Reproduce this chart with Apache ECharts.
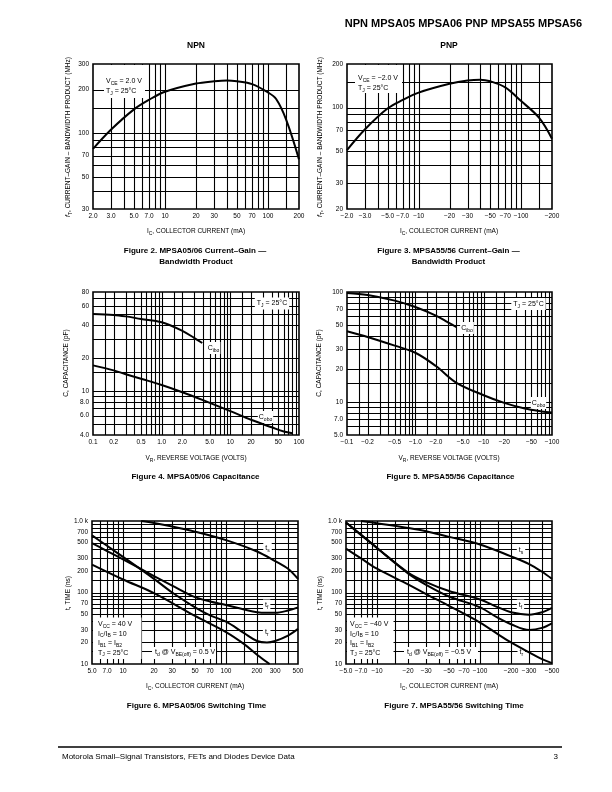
<!DOCTYPE html>
<html><head><meta charset="utf-8">
<script src="https://cdn.jsdelivr.net/npm/echarts@6/dist/echarts.min.js"></script>
<style>html,body{margin:0;padding:0;background:#fff}#c{width:612px;height:792px}</style>
</head><body><div id="c"></div>
<script>
const FONT = '"Liberation Sans", Arial, Helvetica, sans-serif';

// ---------- Figure 2 : MPSA05/06 fT vs IC ----------
const f2Ic = [2, 3, 5, 7, 10, 20, 30, 40, 50, 70, 100, 120, 150, 200];
const f2Ft = [78, 106, 146, 170, 193, 220, 228, 231, 228, 218, 191, 172, 124, 66];
const f2XGrid = [3, 4, 5, 6, 7, 8, 9, 10, 20, 30, 40, 50, 60, 70, 80, 90, 100, 150];
const f2YGrid = [40, 50, 60, 70, 80, 90, 100, 150, 200];
const f2XTicks = [2, 3, 5, 7, 10, 20, 30, 50, 70, 100, 200];
const f2XLabels = ['2.0', '3.0', '5.0', '7.0', '10', '20', '30', '50', '70', '100', '200'];
const f2YTicks = [30, 50, 70, 100, 200, 300];
const f2YLabels = ['30', '50', '70', '100', '200', '300'];

// ---------- Figure 3 : MPSA55/56 fT vs IC ----------
const f3Ic = [2, 3, 5, 7, 10, 20, 30, 40, 50, 70, 100, 150, 200];
const f3Ft = [51, 71, 99, 113, 127, 146, 154, 156, 152, 138, 111, 85, 61];
const f3XGrid = [3, 4, 5, 6, 7, 8, 9, 10, 20, 30, 40, 50, 60, 70, 80, 90, 100, 150];
const f3YGrid = [30, 40, 50, 60, 70, 80, 90, 100, 150];
const f3XTicks = [2, 3, 5, 7, 10, 20, 30, 50, 70, 100, 200];
const f3XLabels = ['\u22122.0', '\u22123.0', '\u22125.0', '\u22127.0', '\u221210', '\u221220', '\u221230', '\u221250', '\u221270', '\u2212100', '\u2212200'];
const f3YTicks = [20, 30, 50, 70, 100, 200];
const f3YLabels = ['20', '30', '50', '70', '100', '200'];

// ---------- Figure 4 : MPSA05/06 capacitance ----------
const f4CiboV = [0.1, 0.2, 0.3, 0.5, 1, 2, 3, 3.9];
const f4Cibo = [50.5, 49.5, 48, 45.5, 42.5, 35.5, 30.5, 27.5];
const f4CoboV = [0.1, 0.2, 0.3, 0.5, 1, 2, 4, 10, 20, 40, 60, 80];
const f4Cobo = [17.2, 15.5, 14.3, 13, 11.4, 9.8, 8.3, 6.6, 5.5, 4.7, 4.3, 4.15];
const f4XGrid = [0.15, 0.2, 0.3, 0.4, 0.5, 0.6, 0.7, 0.8, 0.9, 1, 1.5, 2, 3, 4, 5, 6, 7, 8, 9, 10, 15, 20, 30, 40, 50, 60, 70, 80, 90];
const f4YGrid = [5, 6, 7, 8, 9, 10, 15, 20, 30, 40, 50, 60, 70];
const f4XTicks = [0.1, 0.2, 0.5, 1, 2, 5, 10, 20, 50, 100];
const f4XLabels = ['0.1', '0.2', '0.5', '1.0', '2.0', '5.0', '10', '20', '50', '100'];
const f4YTicks = [4, 6, 8, 10, 20, 40, 60, 80];
const f4YLabels = ['4.0', '6.0', '8.0', '10', '20', '40', '60', '80'];

// ---------- Figure 5 : MPSA55/56 capacitance ----------
const f5CiboV = [0.1, 0.2, 0.5, 1, 2, 3, 4];
const f5Cibo = [98, 94, 83.5, 73, 61, 53, 48];
const f5CoboV = [0.1, 0.2, 0.5, 1, 2, 4, 10, 20, 40, 70, 100];
const f5Cobo = [44, 39, 32.5, 28, 21.2, 14.9, 11.5, 9.8, 8.7, 8.2, 8.0];
const f5XGrid = [0.15, 0.2, 0.3, 0.4, 0.5, 0.6, 0.7, 0.8, 0.9, 1, 1.5, 2, 3, 4, 5, 6, 7, 8, 9, 10, 15, 20, 30, 40, 50, 60, 70, 80, 90];
const f5YGrid = [6, 7, 8, 9, 10, 15, 20, 30, 40, 50, 60, 70, 80, 90];
const f5XTicks = [0.1, 0.2, 0.5, 1, 2, 5, 10, 20, 50, 100];
const f5XLabels = ['\u22120.1', '\u22120.2', '\u22120.5', '\u22121.0', '\u22122.0', '\u22125.0', '\u221210', '\u221220', '\u221250', '\u2212100'];
const f5YTicks = [5, 7, 10, 20, 30, 50, 70, 100];
const f5YLabels = ['5.0', '7.0', '10', '20', '30', '50', '70', '100'];

// ---------- Figure 6 : MPSA05/06 switching time ----------
const f6TsIc = [15, 20, 30, 50, 100, 200, 300, 400, 500];
const f6Ts = [1000, 940, 840, 710, 540, 375, 275, 215, 155];
const f6Ic = [5, 7, 10, 20, 30, 50, 70, 100, 150, 200, 250, 300, 400, 500];
const f6Tf = [490, 380, 290, 170, 125, 86, 75, 67, 58, 53, 52, 52, 56, 62];
const f6Tr = [630, 450, 315, 155, 100, 62, 48, 39, 27, 21, 20, 21, 25, 31];
const f6TdIc = [5, 10, 20, 50, 100, 150, 200, 265];
const f6Td = [245, 152, 98, 47, 28, 19, 13.5, 10];
const f6XGrid = [6, 7, 8, 9, 10, 15, 20, 30, 40, 50, 60, 70, 80, 90, 100, 150, 200, 300, 400];
const f6YGrid = [15, 20, 30, 40, 50, 60, 70, 80, 90, 100, 150, 200, 300, 400, 500, 600, 700, 800, 900];
const f6XTicks = [5, 7, 10, 20, 30, 50, 70, 100, 200, 300, 500];
const f6XLabels = ['5.0', '7.0', '10', '20', '30', '50', '70', '100', '200', '300', '500'];
const f6YTicks = [10, 20, 30, 50, 70, 100, 200, 300, 500, 700, 1000];
const f6YLabels = ['10', '20', '30', '50', '70', '100', '200', '300', '500', '700', '1.0 k'];

// ---------- Figure 7 : MPSA55/56 switching time ----------
const f7TsIc = [7, 10, 20, 30, 50, 100, 200, 300, 400, 500];
const f7Ts = [1000, 930, 800, 720, 600, 470, 320, 250, 195, 155];
const f7Ic = [5, 7, 10, 20, 30, 50, 100, 150, 200, 300, 400, 500];
const f7Tf = [950, 640, 420, 190, 140, 105, 80, 62, 53, 49, 53, 61];
const f7Td = [950, 640, 420, 185, 128, 88, 62, 44, 36, 30, 32, 37];
const f7Tr = [410, 300, 215, 130, 95, 65, 38, 26, 20, 14.5, 11.7, 10.3];
const f7XGrid = [6, 7, 8, 9, 10, 15, 20, 30, 40, 50, 60, 70, 80, 90, 100, 150, 200, 300, 400];
const f7YGrid = [15, 20, 30, 40, 50, 60, 70, 80, 90, 100, 150, 200, 300, 400, 500, 600, 700, 800, 900];
const f7XTicks = [5, 7, 10, 20, 30, 50, 70, 100, 200, 300, 500];
const f7XLabels = ['\u22125.0', '\u22127.0', '\u221210', '\u221220', '\u221230', '\u221250', '\u221270', '\u2212100', '\u2212200', '\u2212300', '\u2212500'];
const f7YTicks = [10, 20, 30, 50, 70, 100, 200, 300, 500, 700, 1000];
const f7YLabels = ['10', '20', '30', '50', '70', '100', '200', '300', '500', '700', '1.0 k'];

function zip(a, b) { return a.map((v, i) => [v, b[i]]); }

const panels = [
  { box: [93, 64, 206, 145], xr: [2, 200], yr: [30, 300], xg: f2XGrid, yg: f2YGrid, xt: f2XTicks, xl: f2XLabels, yt: f2YTicks, yl: f2YLabels,
    curves: [zip(f2Ic, f2Ft)] },
  { box: [347, 64, 205, 145], xr: [2, 200], yr: [20, 200], xg: f3XGrid, yg: f3YGrid, xt: f3XTicks, xl: f3XLabels, yt: f3YTicks, yl: f3YLabels,
    curves: [zip(f3Ic, f3Ft)] },
  { box: [93, 292, 206, 143], xr: [0.1, 100], yr: [4, 80], xg: f4XGrid, yg: f4YGrid, xt: f4XTicks, xl: f4XLabels, yt: f4YTicks, yl: f4YLabels,
    curves: [zip(f4CiboV, f4Cibo), zip(f4CoboV, f4Cobo)] },
  { box: [347, 292, 205, 143], xr: [0.1, 100], yr: [5, 100], xg: f5XGrid, yg: f5YGrid, xt: f5XTicks, xl: f5XLabels, yt: f5YTicks, yl: f5YLabels,
    curves: [zip(f5CiboV, f5Cibo), zip(f5CoboV, f5Cobo)] },
  { box: [92, 521, 206, 143], xr: [5, 500], yr: [10, 1000], xg: f6XGrid, yg: f6YGrid, xt: f6XTicks, xl: f6XLabels, yt: f6YTicks, yl: f6YLabels,
    curves: [zip(f6TsIc, f6Ts), zip(f6Ic, f6Tf), zip(f6Ic, f6Tr), zip(f6TdIc, f6Td)] },
  { box: [346, 521, 206, 143], xr: [5, 500], yr: [10, 1000], xg: f7XGrid, yg: f7YGrid, xt: f7XTicks, xl: f7XLabels, yt: f7YTicks, yl: f7YLabels,
    curves: [zip(f7TsIc, f7Ts), zip(f7Ic, f7Tf), zip(f7Ic, f7Td), zip(f7Ic, f7Tr)] }
];

const grid = [], xAxis = [], yAxis = [], series = [];
panels.forEach((p, gi) => {
  grid.push({ left: p.box[0], top: p.box[1], width: p.box[2], height: p.box[3], show: true,
    borderColor: '#000', borderWidth: 1.6, backgroundColor: 'transparent', z: 10, outerBoundsMode: 'none', containLabel: false });
  const hidden = { axisLine: { show: false }, axisTick: { show: false }, axisLabel: { show: false }, splitLine: { show: false } };
  xAxis.push(Object.assign({ type: 'log', logBase: 10, gridIndex: gi, min: p.xr[0], max: p.xr[1] }, hidden));
  yAxis.push(Object.assign({ type: 'log', logBase: 10, gridIndex: gi, min: p.yr[0], max: p.yr[1] }, hidden));
  // grid lines
  const gdata = p.xg.map(v => [v, p.yr[0], 0]).concat(p.yg.map(v => [p.xr[0], v, 1]));
  series.push({ type: 'custom', xAxisIndex: gi, yAxisIndex: gi, z: 1, silent: true, clip: false, animation: false,
    data: gdata, encode: { x: 0, y: 1 },
    renderItem: function (params, api) {
      const cs = params.coordSys;
      const pt = api.coord([api.value(0), api.value(1)]);
      const st = { stroke: '#000', lineWidth: 1.1 };
      if (api.value(2) === 0) {
        const x = Math.round(pt[0]) + 0.5;
        return { type: 'line', shape: { x1: x, y1: cs.y, x2: x, y2: cs.y + cs.height }, style: st };
      }
      const y = Math.round(pt[1]) + 0.5;
      return { type: 'line', shape: { x1: cs.x, y1: y, x2: cs.x + cs.width, y2: y }, style: st };
    } });
  // x tick labels
  series.push({ type: 'custom', xAxisIndex: gi, yAxisIndex: gi, z: 2, silent: true, clip: false, animation: false,
    data: p.xt.map(v => [v, p.yr[0]]), encode: { x: 0, y: 1 },
    renderItem: function (params, api) {
      const pt = api.coord([api.value(0), api.value(1)]);
      return { type: 'text', x: pt[0], y: pt[1] + 7, style: { text: p.xl[params.dataIndex], fontSize: 6.5, fontFamily: FONT, fill: '#000', align: 'center', verticalAlign: 'middle' } };
    } });
  // y tick labels
  series.push({ type: 'custom', xAxisIndex: gi, yAxisIndex: gi, z: 2, silent: true, clip: false, animation: false,
    data: p.yt.map(v => [p.xr[0], v]), encode: { x: 0, y: 1 },
    renderItem: function (params, api) {
      const pt = api.coord([api.value(0), api.value(1)]);
      return { type: 'text', x: pt[0] - 4, y: pt[1], style: { text: p.yl[params.dataIndex], fontSize: 6.5, fontFamily: FONT, fill: '#000', align: 'right', verticalAlign: 'middle' } };
    } });
  p.curves.forEach(c => {
    series.push({ type: 'line', xAxisIndex: gi, yAxisIndex: gi, data: c, showSymbol: false, symbol: 'none', smooth: 0.35,
      lineStyle: { color: '#000', width: 2 }, z: 5, silent: true, animation: false });
  });
});

const RICH = {
  s: { fontSize: 5, lineHeight: 5, verticalAlign: 'bottom', fontFamily: FONT, fill: '#000' },
  i: { fontStyle: 'italic', fontSize: 7, fontFamily: FONT, fill: '#000' }
};
function T(x, y, text, o) {
  o = o || {};
  return { type: 'text', x: x, y: y, z: o.z || 3, rotation: o.rot || 0,
    style: { text: text, fontSize: o.fs || 7, fontWeight: o.fw || 'normal', fontFamily: FONT, fill: '#000',
      align: o.align || 'left', verticalAlign: o.va || 'middle', lineHeight: o.lh || 10, rich: RICH,
      backgroundColor: o.bg, padding: o.pad } };
}
function R(x, y, w, h) { return { type: 'rect', z: 3, shape: { x: x, y: y, width: w, height: h }, style: { fill: '#fff' } }; }
const ROT = Math.PI / 2;
const g = [
  T(582, 24, 'NPN MPSA05 MPSA06 PNP MPSA55 MPSA56', { fs: 11, fw: 'bold', align: 'right' }),
  T(196, 46, 'NPN', { fs: 8.5, fw: 'bold', align: 'center' }),
  T(449, 46, 'PNP', { fs: 8.5, fw: 'bold', align: 'center' }),
  // y-axis titles
  T(68, 137, '{i|f}{s|T}, CURRENT\u2013GAIN \u2013 BANDWIDTH PRODUCT (MHz)', { fs: 6.5, align: 'center', rot: ROT }),
  T(320, 137, '{i|f}{s|T}, CURRENT\u2013GAIN \u2013 BANDWIDTH PRODUCT (MHz)', { fs: 6.5, align: 'center', rot: ROT }),
  T(66, 363, 'C, CAPACITANCE (pF)', { fs: 6.5, align: 'center', rot: ROT }),
  T(319, 363, 'C, CAPACITANCE (pF)', { fs: 6.5, align: 'center', rot: ROT }),
  T(68, 593, 't, TIME (ns)', { fs: 6.5, align: 'center', rot: ROT }),
  T(320, 593, 't, TIME (ns)', { fs: 6.5, align: 'center', rot: ROT }),
  // x-axis titles
  T(196, 231, 'I{s|C}, COLLECTOR CURRENT (mA)', { fs: 6.5, align: 'center' }),
  T(449, 231, 'I{s|C}, COLLECTOR CURRENT (mA)', { fs: 6.5, align: 'center' }),
  T(196, 458, 'V{s|R}, REVERSE VOLTAGE (VOLTS)', { fs: 6.5, align: 'center' }),
  T(449, 458, 'V{s|R}, REVERSE VOLTAGE (VOLTS)', { fs: 6.5, align: 'center' }),
  T(195, 686, 'I{s|C}, COLLECTOR CURRENT (mA)', { fs: 6.5, align: 'center' }),
  T(449, 686, 'I{s|C}, COLLECTOR CURRENT (mA)', { fs: 6.5, align: 'center' }),
  // captions
  T(195, 251, 'Figure 2. MPSA05/06 Current\u2013Gain \u2014', { fs: 8, fw: 'bold', align: 'center' }),
  T(196, 262, 'Bandwidth Product', { fs: 8, fw: 'bold', align: 'center' }),
  T(448.5, 251, 'Figure 3. MPSA55/56 Current\u2013Gain \u2014', { fs: 8, fw: 'bold', align: 'center' }),
  T(448.5, 262, 'Bandwidth Product', { fs: 8, fw: 'bold', align: 'center' }),
  T(195.5, 477, 'Figure 4. MPSA05/06 Capacitance', { fs: 8, fw: 'bold', align: 'center' }),
  T(450.5, 477, 'Figure 5. MPSA55/56 Capacitance', { fs: 8, fw: 'bold', align: 'center' }),
  T(196.5, 706, 'Figure 6. MPSA05/06 Switching Time', { fs: 8, fw: 'bold', align: 'center' }),
  T(454, 706, 'Figure 7. MPSA55/56 Switching Time', { fs: 8, fw: 'bold', align: 'center' }),
  // fig 2 / 3 condition boxes
  R(104, 65, 41, 33),
  T(106, 76.5, 'V{s|CE} = 2.0 V\nT{s|J} = 25\u00b0C', { va: 'top' }),
  R(355, 65, 47, 28),
  T(358, 73, 'V{s|CE} = \u22122.0 V\nT{s|J} = 25\u00b0C', { va: 'top' }),
  // fig 4 / 5 labels
  T(272, 303.5, 'T{s|J} = 25\u00b0C', { align: 'center', bg: '#fff', pad: [1, 2, 1, 2] }),
  T(528.5, 304, 'T{s|J} = 25\u00b0C', { align: 'center', bg: '#fff', pad: [1, 2, 1, 2] }),
  T(213.5, 348, 'C{s|ibo}', { align: 'center', bg: '#fff', pad: [1, 1, 1, 1] }),
  T(265.5, 417, 'C{s|obo}', { align: 'center', bg: '#fff', pad: [1, 1, 1, 1] }),
  T(467, 328, 'C{s|ibo}', { align: 'center', bg: '#fff', pad: [1, 1, 1, 1] }),
  T(538.5, 403, 'C{s|obo}', { align: 'center', bg: '#fff', pad: [1, 1, 1, 1] }),
  // fig 6 boxes
  R(93, 617.5, 48.5, 41.5),
  T(98, 619.5, 'V{s|CC} = 40 V\nI{s|C}/I{s|B} = 10\nI{s|B1} = I{s|B2}\nT{s|J} = 25\u00b0C', { va: 'top', lh: 9.5 }),
  R(152, 647, 64, 12),
  T(155, 652, 't{s|d} @ V{s|BE(off)} = 0.5 V'),
  T(267.5, 548.5, 't{s|s}', { align: 'center', bg: '#fff', pad: [1, 2, 1, 2] }),
  T(266.7, 605.5, 't{s|f}', { align: 'center', bg: '#fff', pad: [1, 2, 1, 2] }),
  T(266.7, 632.5, 't{s|r}', { align: 'center', bg: '#fff', pad: [1, 2, 1, 2] }),
  // fig 7 boxes
  R(347, 617.5, 46.5, 41.5),
  T(350, 619.5, 'V{s|CC} = \u221240 V\nI{s|C}/I{s|B} = 10\nI{s|B1} = I{s|B2}\nT{s|J} = 25\u00b0C', { va: 'top', lh: 9.5 }),
  R(404, 647, 74, 12),
  T(407, 652, 't{s|d} @ V{s|BE(off)} = \u22120.5 V'),
  T(521, 550.5, 't{s|s}', { align: 'center', bg: '#fff', pad: [1, 2, 1, 2] }),
  T(520.5, 605.5, 't{s|f}', { align: 'center', bg: '#fff', pad: [1, 2, 1, 2] }),
  T(521.3, 652, 't{s|r}', { align: 'center', bg: '#fff', pad: [1, 2, 1, 2] }),
  // footer
  { type: 'line', z: 3, shape: { x1: 58, y1: 747, x2: 562, y2: 747 }, style: { stroke: '#000', lineWidth: 1.5 } },
  T(62, 757, 'Motorola Small\u2013Signal Transistors, FETs and Diodes Device Data', { fs: 8 }),
  T(558, 757, '3', { fs: 8, align: 'right' })
];

const chart = echarts.init(document.getElementById('c'), null, { renderer: 'canvas' });
chart.setOption({ animation: false, backgroundColor: '#fff', grid: grid, xAxis: xAxis, yAxis: yAxis, series: series, graphic: { elements: g } });
</script></body></html>
